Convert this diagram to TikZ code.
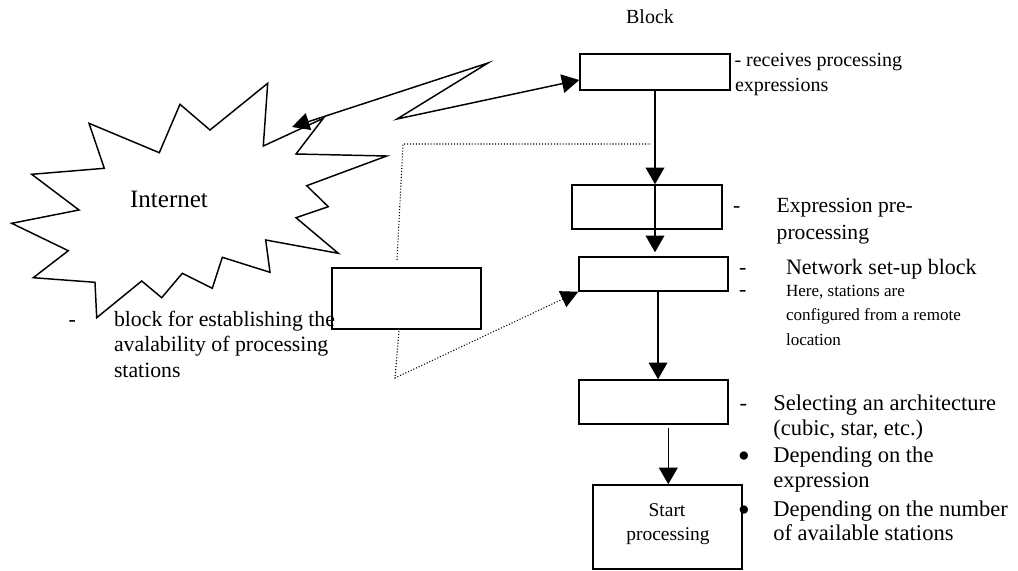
\documentclass[tikz,border=0pt]{standalone}
\usepackage{fontspec}
\setmainfont{Liberation Serif}
\usetikzlibrary{arrows.meta,calc}
\tikzset{
  box/.style={draw=black, line width=1.1pt, fill=none, inner sep=0pt, rectangle},
  conn/.style={line width=1.2pt, -{Triangle[length=12.5pt,width=14pt]}},
  dconn/.style={line width=1.1pt, {Triangle[length=13pt,width=13pt]}-{Triangle[length=13pt,width=14pt]}},
  dotline/.style={line width=0.8pt, dash pattern=on 0.8pt off 1.4pt},
  lbl/.style={anchor=base west, inner sep=0pt, outer sep=0pt},
  fA/.style={font=\fontsize{16.5pt}{20pt}\selectfont},
  fB/.style={font=\fontsize{15pt}{18pt}\selectfont},
  fC/.style={font=\fontsize{12.8pt}{15pt}\selectfont},
  fD/.style={font=\fontsize{16.9pt}{20pt}\selectfont},
  bul/.style={anchor=base, inner sep=0pt, font=\fontsize{26pt}{28pt}\selectfont},
}
\begin{document}
\begin{tikzpicture}[x=0.75pt,y=-0.75pt]
\useasboundingbox (0,0) rectangle (1018,571);
% cloud
\draw[line width=1.1pt, line join=miter]
 (267.7,83.3) -- (263.3,146) -- (323.3,118.3) -- (296,154) -- (386.7,156) --
 (306.7,185.7) -- (328.3,206.7) -- (296,217.7) -- (338.3,253.3) -- (265.7,240) --
 (270,272.3) -- (222.3,257.3) -- (212.3,288.3) -- (182.3,273.3) -- (161.7,297.7) --
 (141.7,281) -- (96.7,317.7) -- (95,282.3) -- (33.3,277.7) -- (68.3,250.7) --
 (11.7,223.3) -- (79,210) -- (31.7,174.3) -- (104.3,168.3) -- (89,123.3) --
 (159.3,152.7) -- (180,104.3) -- (210,130) -- cycle;
\node[lbl, anchor=base, font=\fontsize{18.75pt}{22pt}\selectfont] (internet) at (169,207) {Internet};
\coordinate (inet) at (292,127);

% boxes
\node[box, minimum width=112.5pt, minimum height=27pt] (b1) at (655,72) {};
\node[box, minimum width=112.5pt, minimum height=33pt] (b2) at (647,207) {};
\node[box, minimum width=111.75pt, minimum height=25.5pt] (b3) at (653.5,274) {};
\node[box, minimum width=111.75pt, minimum height=45.75pt] (bl) at (406.5,298.5) {};
\node[box, minimum width=111.75pt, minimum height=33pt] (b4) at (653.5,402) {};
\node[box, minimum width=111.75pt, minimum height=63pt] (b5) at (667.5,527) {};

% vertical connectors
\draw[conn] (b1.south) -- (b1.south |- b2.north);
\draw[conn] (b1.south |- b2.north) -- ([yshift=3pt]b1.south |- b3.north);
\draw[conn] ([xshift=3.4pt]b3.south) -- ([xshift=3.4pt]b3.south |- b4.north);
\coordinate (b45) at (668.3,428);
\draw[conn] (b45) -- (b45 |- b5.north);

% lightning connector
\coordinate (z1) at (488,63);
\coordinate (z2) at (397,119);
\draw[dconn, line join=miter] (inet) -- (z1) -- (z2) -- ([yshift=-6pt]b1.west);

% dotted connectors
\coordinate (d1) at (397,260);
\coordinate (d2) at (403,144);
\coordinate (d3) at (651,144);
\draw[dotline] (d1) -- (d2) -- (d3);
\coordinate (e1) at (399,331);
\coordinate (e2) at (395,378);
\draw[dotline, -{Triangle[length=13pt,width=13pt]}] (e1) -- (e2) -- (b3.south west);

% labels
\node[lbl, anchor=base, fB] (blk) at (650,23) {Block};
\node[lbl, fB] (rc1) at (734.5,66) {- receives processing};
\node[lbl, fB] (rc2) at (735,91) {expressions};

\node[lbl, font=\fontsize{16.2pt}{20pt}\selectfont] (ex0) at (733,212) {-};
\node[lbl, font=\fontsize{16.2pt}{20pt}\selectfont] (ex1) at (776.7,212) {Expression pre-};
\node[lbl, font=\fontsize{16.2pt}{20pt}\selectfont] (ex2) at (776.7,239.5) {processing};

\node[lbl, fA] (nw0) at (739,274) {-};
\node[lbl, fA] (nw1) at (786,274) {Network set-up block};
\node[lbl, fA] (hr0) at (739,296) {-};
\node[lbl, fC] (hr1) at (786,296) {Here, stations are};
\node[lbl, fC] (hr2) at (786,320.5) {configured from a remote};
\node[lbl, fC] (hr3) at (786,345) {location};

\node[lbl, font=\fontsize{16.35pt}{20pt}\selectfont] (av0) at (68.5,326) {-};
\node[lbl, font=\fontsize{16.35pt}{20pt}\selectfont] (av1) at (114,326) {block for establishing the};
\node[lbl, font=\fontsize{16.35pt}{20pt}\selectfont] (av2) at (114,351.5) {avalability of processing};
\node[lbl, font=\fontsize{16.35pt}{20pt}\selectfont] (av3) at (114,377) {stations};

\node[lbl, fD] (sa0) at (739.5,410) {-};
\node[lbl, fD] (sa1) at (773.3,410) {Selecting an architecture};
\node[lbl, fD] (sa2) at (773.3,435) {(cubic, star, etc.)};
\node[bul] (bu1) at (744,467) {•};
\node[lbl, fD] (sa3) at (773.3,462) {Depending on the};
\node[lbl, fD] (sa4) at (773.3,487) {expression};
\node[bul] (bu2) at (744,521) {•};
\node[lbl, fD] (sa5) at (773.3,516) {Depending on the number};
\node[lbl, fD] (sa6) at (773.3,540) {of available stations};

\node[lbl, anchor=base, font=\fontsize{14.6pt}{17pt}\selectfont] (st1) at (667,516.7) {Start};
\node[lbl, anchor=base, font=\fontsize{14.6pt}{17pt}\selectfont] (st2) at (668,540) {processing};
\end{tikzpicture}
\end{document}
